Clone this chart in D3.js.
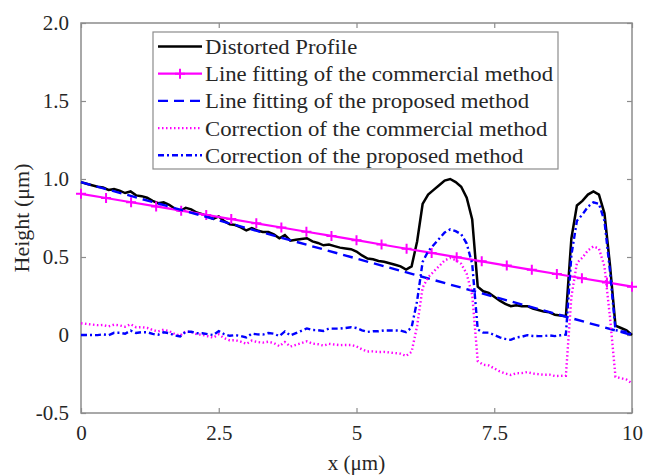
<!DOCTYPE html>
<html>
<head>
<meta charset="utf-8">
<script src="https://cdn.jsdelivr.net/npm/d3@7"></script>
<style>
  body { margin: 0; background: #fff; }
  svg text { font-family: "Liberation Serif", "Times New Roman", serif; fill: #262626; }
</style>
</head>
<body>
<div id="chart-container"></div>
<script>
// sample positions of the measured profile (um)
const xs = d3.range(101).map((i) => i / 10);

// distorted profile (um)
const profile = [
  0.98, 0.97, 0.96, 0.95, 0.945, 0.93, 0.935, 0.925, 0.91, 0.92,
  0.895, 0.89, 0.88, 0.86, 0.845, 0.85, 0.835, 0.81, 0.795, 0.815,
  0.805, 0.785, 0.775, 0.76, 0.745, 0.76, 0.73, 0.71, 0.705, 0.69,
  0.67, 0.685, 0.67, 0.66, 0.66, 0.645, 0.62, 0.64, 0.605, 0.61,
  0.615, 0.62, 0.6, 0.59, 0.575, 0.58, 0.57, 0.56, 0.555, 0.55,
  0.535, 0.51, 0.49, 0.485, 0.475, 0.47, 0.46, 0.45, 0.44, 0.42,
  0.44, 0.6, 0.84, 0.9, 0.93, 0.96, 0.99, 1.0, 0.98, 0.95,
  0.88, 0.74, 0.31, 0.28, 0.27, 0.245, 0.22, 0.2, 0.185, 0.19,
  0.185, 0.185, 0.17, 0.16, 0.15, 0.145, 0.13, 0.125, 0.12, 0.62,
  0.83, 0.86, 0.9, 0.92, 0.9, 0.78, 0.45, 0.06, 0.045, 0.03,
  0.0
];

// correction of the commercial method (um)
const corrCommercial = [
  0.075, 0.071, 0.067, 0.063, 0.064, 0.055, 0.066, 0.062, 0.053, 0.069,
  0.05, 0.05, 0.046, 0.032, 0.023, 0.034, 0.025, 0.006, -0.003, 0.023,
  0.019, 0.005, 0.001, -0.008, -0.017, 0.004, -0.02, -0.034, -0.033, -0.043,
  -0.057, -0.036, -0.045, -0.049, -0.043, -0.052, -0.071, -0.045, -0.074, -0.063,
  -0.052, -0.041, -0.055, -0.059, -0.068, -0.057, -0.061, -0.065, -0.064, -0.064,
  -0.073, -0.092, -0.106, -0.105, -0.109, -0.108, -0.112, -0.116, -0.12, -0.134,
  -0.108, 0.058, 0.304, 0.37, 0.406, 0.442, 0.478, 0.494, 0.48, 0.456,
  0.392, 0.257, -0.167, -0.191, -0.195, -0.214, -0.233, -0.247, -0.256, -0.245,
  -0.244, -0.238, -0.247, -0.251, -0.255, -0.254, -0.263, -0.262, -0.261, 0.245,
  0.461, 0.496, 0.542, 0.568, 0.554, 0.44, 0.116, -0.268, -0.277, -0.286,
  -0.31
];

// correction of the proposed method (um)
const corrProposed = [
  0.0, -0.0, -0.0, -0.001, 0.004, -0.001, 0.014, 0.014, 0.008, 0.028,
  0.013, 0.018, 0.018, 0.007, 0.002, 0.017, 0.012, -0.003, -0.009, 0.021,
  0.021, 0.011, 0.011, 0.005, 0.0, 0.025, 0.005, -0.005, -0.001, -0.006,
  -0.016, 0.009, 0.004, 0.003, 0.013, 0.008, -0.007, 0.023, -0.003, 0.012,
  0.027, 0.042, 0.032, 0.031, 0.026, 0.041, 0.041, 0.041, 0.045, 0.05,
  0.045, 0.03, 0.02, 0.024, 0.024, 0.029, 0.029, 0.029, 0.028, 0.018,
  0.048, 0.218, 0.468, 0.537, 0.577, 0.617, 0.657, 0.677, 0.666, 0.646,
  0.586, 0.456, 0.036, 0.015, 0.015, 0.0, -0.015, -0.025, -0.031, -0.016,
  -0.011, -0.001, -0.006, -0.007, -0.007, -0.002, -0.007, -0.002, 0.002, 0.512,
  0.732, 0.772, 0.822, 0.851, 0.841, 0.731, 0.411, 0.031, 0.025, 0.02,
  0.0
];

// line fitting of the commercial method, at its marker positions
const commercialX = d3.range(23).map((k) => (k * 10) / 22);
const commercialFit = [
  0.905, 0.878, 0.851, 0.824, 0.797, 0.77, 0.743, 0.716, 0.689, 0.662,
  0.635, 0.608, 0.58, 0.553, 0.526, 0.499, 0.472, 0.445, 0.418, 0.391,
  0.364, 0.337, 0.31
];

// line fitting of the proposed method (end points)
const proposedX = [0, 10];
const proposedFit = [0.98, 0.0];

const xTicks = [0, 2.5, 5, 7.5, 10];
const xTickLabels = ["0", "2.5", "5", "7.5", "10"];
const yTicks = [-0.5, 0, 0.5, 1, 1.5, 2];
const yTickLabels = ["-0.5", "0", "0.5", "1.0", "1.5", "2.0"];

const legendLabels = [
  "Distorted Profile",
  "Line fitting of the commercial method",
  "Line fitting of the proposed method",
  "Correction of the commercial method",
  "Correction of the proposed method",
];

const width = 645;
const height = 475;
const margin = { top: 23, right: 13, bottom: 62, left: 81 };

const svg = d3
  .select("#chart-container")
  .append("svg")
  .attr("width", width)
  .attr("height", height);

const xScale = d3.scaleLinear().domain([0, 10]).range([margin.left, width - margin.right]);
const yScale = d3.scaleLinear().domain([-0.5, 2]).range([height - margin.bottom, margin.top]);

const axisColor = "#8c8c8c";

// frame
svg
  .append("rect")
  .attr("x", xScale(0))
  .attr("y", yScale(2))
  .attr("width", xScale(10) - xScale(0))
  .attr("height", yScale(-0.5) - yScale(2))
  .attr("fill", "none")
  .attr("stroke", axisColor)
  .attr("stroke-width", 1.5);

// axes, ticks pointing inwards like MATLAB
const xAxis = d3
  .axisBottom(xScale)
  .tickValues(xTicks)
  .tickFormat((d, i) => xTickLabels[i])
  .tickSizeInner(-5)
  .tickSizeOuter(0)
  .tickPadding(12);
const xAxisTop = d3.axisTop(xScale).tickValues(xTicks).tickFormat("").tickSizeInner(-5).tickSizeOuter(0);
const yAxis = d3
  .axisLeft(yScale)
  .tickValues(yTicks)
  .tickFormat((d, i) => yTickLabels[i])
  .tickSizeInner(-5)
  .tickSizeOuter(0)
  .tickPadding(12);
const yAxisRight = d3.axisRight(yScale).tickValues(yTicks).tickFormat("").tickSizeInner(-5).tickSizeOuter(0);

function styleAxis(g) {
  g.select(".domain").remove();
  g.selectAll("line").attr("stroke", axisColor).attr("stroke-width", 1.2);
  g.selectAll("text")
    .style("font-family", '"Liberation Serif", serif')
    .style("font-size", "21px")
    .attr("fill", "#262626");
}

svg.append("g").attr("transform", `translate(0,${yScale(-0.5)})`).call(xAxis).call(styleAxis);
svg.append("g").attr("transform", `translate(0,${yScale(2)})`).call(xAxisTop).call(styleAxis);
svg.append("g").attr("transform", `translate(${xScale(0)},0)`).call(yAxis).call(styleAxis);
svg.append("g").attr("transform", `translate(${xScale(10)},0)`).call(yAxisRight).call(styleAxis);

// axis titles
svg
  .append("text")
  .attr("x", (xScale(0) + xScale(10)) / 2)
  .attr("y", 470)
  .attr("text-anchor", "middle")
  .style("font-size", "21px")
  .text("x (μm)");

svg
  .append("text")
  .attr("transform", `translate(29,${(yScale(2) + yScale(-0.5)) / 2}) rotate(-90)`)
  .attr("text-anchor", "middle")
  .style("font-size", "22px")
  .text("Height (μm)");

const line = d3
  .line()
  .x((d) => xScale(d[0]))
  .y((d) => yScale(d[1]));

const plot = svg.append("g");

const series = [
  { x: xs, y: profile, color: "#000000", width: 2.5, dash: null },
  { x: commercialX, y: commercialFit, color: "#ff00ff", width: 2.2, dash: null, marker: true },
  { x: proposedX, y: proposedFit, color: "#0000ff", width: 2.4, dash: "10,6" },
  { x: xs, y: corrCommercial, color: "#ff00ff", width: 2.4, dash: "1.5,2.5" },
  { x: xs, y: corrProposed, color: "#0000ff", width: 2.4, dash: "6,3,2,3" },
];

series.forEach((s) => {
  const pts = s.x.map((x, i) => [x, s.y[i]]);
  plot
    .append("path")
    .datum(pts)
    .attr("d", line)
    .attr("fill", "none")
    .attr("stroke", s.color)
    .attr("stroke-width", s.width)
    .attr("stroke-dasharray", s.dash);
  if (s.marker) {
    plot
      .selectAll(null)
      .data(pts)
      .enter()
      .append("path")
      .attr("d", (d) => {
        const cx = xScale(d[0]);
        const cy = yScale(d[1]);
        return `M${cx - 5},${cy}H${cx + 5}M${cx},${cy - 5}V${cy + 5}`;
      })
      .attr("stroke", s.color)
      .attr("stroke-width", 2);
  }
});

// legend
const legend = svg.append("g");
legend
  .append("rect")
  .attr("x", 153)
  .attr("y", 32)
  .attr("width", 405)
  .attr("height", 137)
  .attr("fill", "#fff")
  .attr("stroke", axisColor)
  .attr("stroke-width", 1.2);

const legendTexts = [];
legendLabels.forEach((label, i) => {
  const s = series[i];
  const cy = 46.5 + i * 27.2;
  legend
    .append("line")
    .attr("x1", 158)
    .attr("x2", 202)
    .attr("y1", cy)
    .attr("y2", cy)
    .attr("stroke", s.color)
    .attr("stroke-width", s.width)
    .attr("stroke-dasharray", s.dash);
  if (s.marker) {
    legend
      .append("path")
      .attr("d", `M175,${cy}H185M180,${cy - 5}V${cy + 5}`)
      .attr("stroke", s.color)
      .attr("stroke-width", 2);
  }
  legendTexts.push(
    legend
      .append("text")
      .attr("x", 205)
      .attr("y", cy)
      .attr("dy", "0.35em")
      .style("font-size", "21.5px")
      .text(label)
  );
});

// the reference glyphs run a little wider than Liberation Serif
const stretch = 348 / legendTexts[1].node().getComputedTextLength();
legendTexts.forEach((t) => {
  t.attr("textLength", t.node().getComputedTextLength() * stretch).attr("lengthAdjust", "spacingAndGlyphs");
});
</script>
</body>
</html>
